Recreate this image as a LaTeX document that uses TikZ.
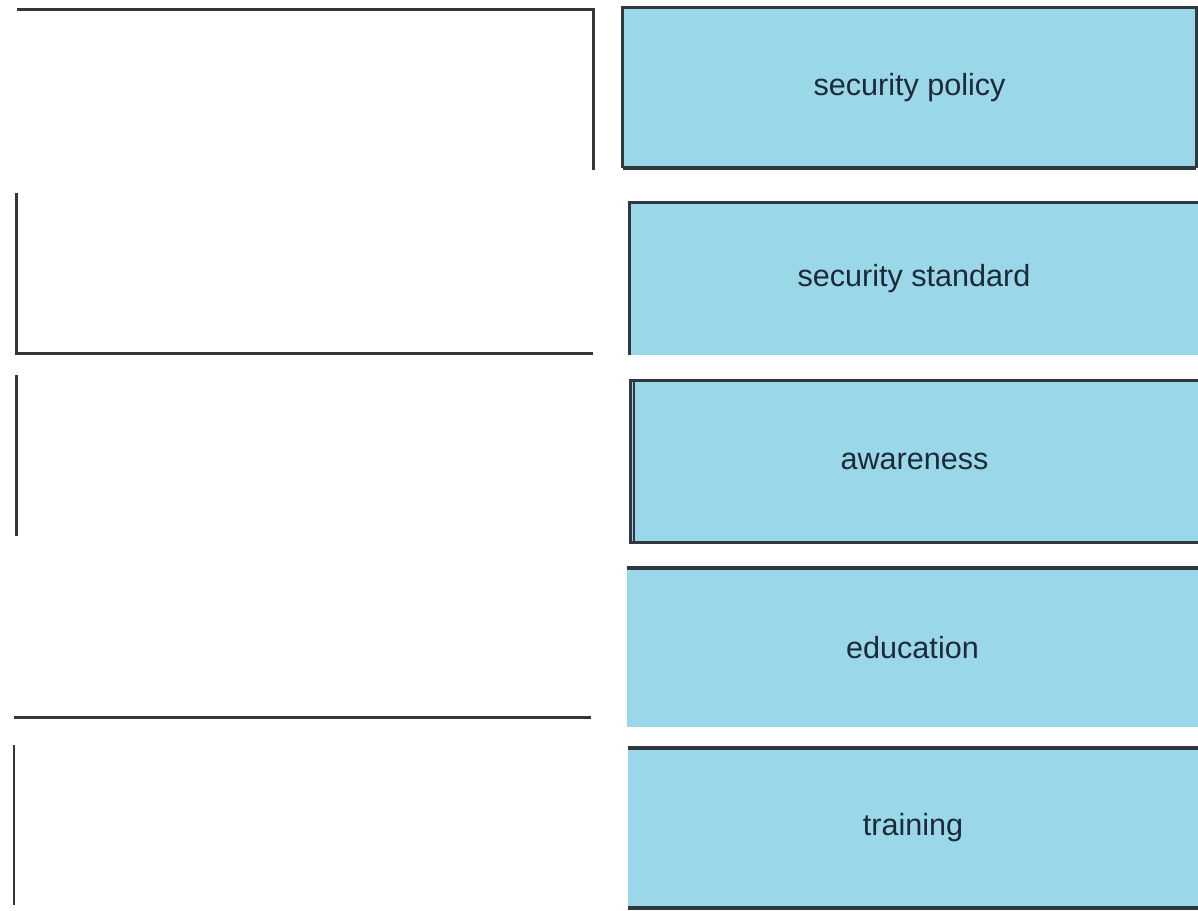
\documentclass[tikz,border=0pt]{standalone}
\usepackage{fontspec}
\setmainfont{Liberation Sans}
\usepackage{xcolor}
\usetikzlibrary{positioning}
\definecolor{cardblue}{RGB}{154,215,233}
\definecolor{edgegray}{RGB}{48,56,62}
\definecolor{inkblue}{RGB}{28,42,56}

\begin{document}
\begin{tikzpicture}[
  slot/.style={minimum width=11.52cm, minimum height=3.2cm, inner sep=0pt},
  card/.style={fill=cardblue, inner sep=0pt, text=inkblue, font=\fontsize{17.4}{20}\selectfont},
  rim/.style={edgegray, line width=1.4pt},
  heavyrim/.style={edgegray, line width=2.4pt}]
\useasboundingbox[fill=white] (0,0) rectangle (23.96,-18.22);
% answer slots on the left
\node[slot] (s1) at (6.10,-1.80) {};
\node[slot] (s2) at (6.10,-5.46) {};
\node[slot] (s3) at (6.10,-9.11) {};
\node[slot] (s4) at (6.05,-12.74) {};
\node[slot] (s5) at (6.05,-16.50) {};
% term cards on the right
\node[card, minimum width=11.46cm, minimum height=3.20cm] (policy) at (18.19,-1.76) {security policy};
\node[card, minimum width=11.36cm, minimum height=3.04cm] (standard) at (18.28,-5.58) {security standard};
\node[card, minimum width=11.34cm, minimum height=3.22cm] (awareness) at (18.29,-9.23) {awareness};
\node[card, minimum width=11.42cm, minimum height=3.18cm] (education) at (18.25,-12.95) {education};
\node[card, minimum width=11.40cm, minimum height=3.20cm] (training) at (18.26,-16.56) {training};
% partial slot borders
\draw[rim] (s1.north west) -- (s1.north east) -- (s1.south east);
\draw[rim] (s2.north west) -- (s2.south west) -- (s2.south east);
\draw[rim] (s3.north west) -- (s3.south west);
\draw[rim] (s4.south west) -- (s4.south east);
\draw[rim] (s5.north west) -- (s5.south west);
% card borders
\draw[rim] (policy.south west) -- (policy.north west) -- (policy.north east) -- (policy.south east);
\draw[heavyrim] (policy.south west) -- (policy.south east);
\draw[rim] (standard.south west) -- (standard.north west) -- (standard.north east);
\draw[rim] (awareness.north east) -- (awareness.north west) -- (awareness.south west) -- (awareness.south east);
\draw[rim] ([xshift=0.07cm]awareness.north west) -- ([xshift=0.07cm]awareness.south west);
\draw[heavyrim] (education.north west) -- (education.north east);
\draw[heavyrim] (training.north west) -- (training.north east);
\draw[heavyrim] (training.south west) -- (training.south east);
\end{tikzpicture}
\end{document}
